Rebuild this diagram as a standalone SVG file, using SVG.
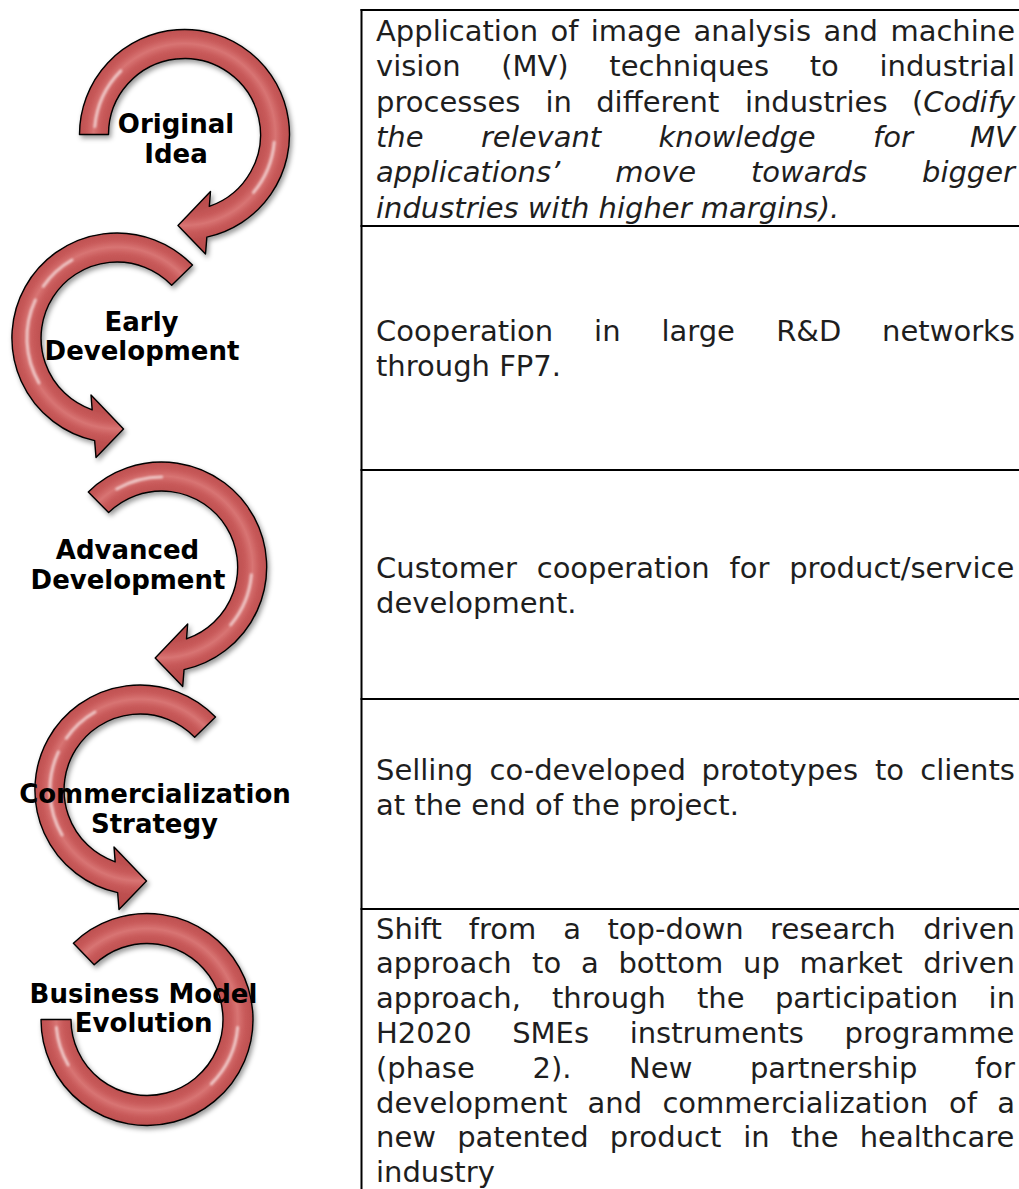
<svg xmlns="http://www.w3.org/2000/svg" width="1019" height="1189" viewBox="0 0 1019 1189">
  <defs>
    <radialGradient id="tube" gradientUnits="userSpaceOnUse" cx="0" cy="0" r="122">
      <stop offset="0.50" stop-color="#b54848"/>
      <stop offset="0.623" stop-color="#be5050"/>
      <stop offset="0.69" stop-color="#c95b5b"/>
      <stop offset="0.745" stop-color="#d87473"/>
      <stop offset="0.80" stop-color="#c95b5b"/>
      <stop offset="0.861" stop-color="#be5050"/>
      <stop offset="1" stop-color="#b54848"/>
    </radialGradient>
    <filter id="shadow" x="-20%" y="-20%" width="140%" height="140%">
      <feDropShadow dx="2" dy="3" stdDeviation="2.5" flood-color="#000" flood-opacity="0.4"/>
    </filter>
    <filter id="soft" x="-20%" y="-20%" width="140%" height="140%">
      <feGaussianBlur stdDeviation="1.1"/>
    </filter>
    <style>
      .arrow { fill: url(#tube); stroke: #000; stroke-width: 1.4; stroke-linejoin: round; filter: url(#shadow); }
      .streak { fill: none; stroke: #fff; stroke-width: 3; stroke-linecap: round; opacity: 0.6; filter: url(#soft); }
      .label { font-family: "DejaVu Sans", Verdana, sans-serif; font-weight: bold; font-size: 26px; fill: #000; text-anchor: middle; }
      .body { font-family: "DejaVu Sans", Verdana, sans-serif; font-size: 29px; fill: #1e1e1e; }
      .it { font-style: italic; }
      .rule { stroke: #000; stroke-width: 2; fill: none; }
    </style>
  </defs>
  <rect width="1019" height="1189" fill="#fff"/>

  <!-- table frame -->
  <g id="table-lines">
    <line class="rule" x1="361.5" y1="9" x2="361.5" y2="1189"/>
    <line class="rule" x1="360.5" y1="10" x2="1019" y2="10"/>
    <line class="rule" x1="360.5" y1="226" x2="1019" y2="226"/>
    <line class="rule" x1="360.5" y1="470" x2="1019" y2="470"/>
    <line class="rule" x1="360.5" y1="699" x2="1019" y2="699"/>
    <line class="rule" x1="360.5" y1="909" x2="1019" y2="909"/>
  </g>

  <g id="connectors"/>

  <!-- Stage 1 -->
  <g id="stage-original-idea">
    <g transform="translate(184.5,134.5)">
      <path class="arrow" d="M -105,0 A 105 105 0 1 1 22.35,102.6 L 21,119.5 L -6.5,91 L 26,57 L 24.81,71.84 A 76 76 0 1 0 -76,0 Z"/>
      <path class="streak" d="M -89.66,-7.84 A 90 90 0 0 1 -63.64,-63.64"/>
      <path class="streak" d="M 89.66,7.84 A 90 90 0 0 1 68.94,57.85"/>
    </g>
    <text class="label" x="176" y="133">Original</text>
    <text class="label" x="176" y="163">Idea</text>
  </g>

  <!-- Stage 2 -->
  <g id="stage-early-development">
    <g transform="translate(117,338)">
      <path class="arrow" d="M 75.5,-72.9 A 105 105 0 1 0 -22.35,102.6 L -21,119.5 L 6.5,91 L -26,57 L -24.81,71.84 A 76 76 0 1 1 54.7,-52.8 Z"/>
      <path class="streak" d="M -81.57,-38.04 A 90 90 0 0 0 -77.94,45"/>
      <path class="streak" d="M -73.72,-51.62 A 90 90 0 0 1 -45,-77.94"/>
    </g>
    <text class="label" x="141.5" y="331">Early</text>
    <text class="label" x="142" y="360">Development</text>
  </g>

  <!-- Stage 3 -->
  <g id="stage-advanced-development">
    <g transform="translate(161.7,567)">
      <path class="arrow" d="M -73.4,-75.1 A 105 105 0 1 1 22.35,102.6 L 21,119.5 L -6.5,91 L 26,57 L 24.81,71.84 A 76 76 0 1 0 -53.1,-54.4 Z"/>
      <path class="streak" d="M 89.66,7.84 A 90 90 0 0 1 68.94,57.85"/>
      <path class="streak" d="M -45,-77.94 A 90 90 0 0 1 0,-90"/>
    </g>
    <text class="label" x="127.5" y="559">Advanced</text>
    <text class="label" x="128" y="589">Development</text>
  </g>

  <!-- Stage 4 -->
  <g id="stage-commercialization-strategy">
    <g transform="translate(140,790)">
      <path class="arrow" d="M 75.5,-72.9 A 105 105 0 1 0 -22.35,102.6 L -21,119.5 L 6.5,91 L -26,57 L -24.81,71.84 A 76 76 0 1 1 54.7,-52.8 Z"/>
      <path class="streak" d="M -81.57,-38.04 A 90 90 0 0 0 -77.94,45"/>
      <path class="streak" d="M -73.72,-51.62 A 90 90 0 0 1 -45,-77.94"/>
    </g>
    <text class="label" x="155" y="803">Commercialization</text>
    <text class="label" x="154.5" y="833">Strategy</text>
  </g>

  <!-- Stage 5 -->
  <g id="stage-business-model-evolution">
    <g transform="translate(147,1019.5)">
      <path class="arrow" d="M -106,0 A 106 106 0 1 0 -73.6,-76.3 L -52.8,-54.7 A 76 76 0 1 1 -76,0 Z"/>
      <path class="streak" d="M 90.65,7.93 A 91 91 0 0 1 64.35,64.35"/>
      <path class="streak" d="M -78.81,45.5 A 91 91 0 0 1 -90.65,7.93"/>
    </g>
    <text class="label" x="143.5" y="1003">Business Model</text>
    <text class="label" x="143.7" y="1032">Evolution</text>
  </g>

  <!-- Row 1 -->
  <g id="row-original-idea">
    <text class="body" y="41"><tspan x="376">Application</tspan><tspan x="550.5">of</tspan><tspan x="590.8">image</tspan><tspan x="693.6">analysis</tspan><tspan x="823.4">and</tspan><tspan x="890.4">machine</tspan></text>
    <text class="body" y="76.3"><tspan x="376">vision</tspan><tspan x="501.2">(MV)</tspan><tspan x="609.3">techniques</tspan><tspan x="809.7">to</tspan><tspan x="879.5">industrial</tspan></text>
    <text class="body" y="111.6"><tspan x="376">processes</tspan><tspan x="545.4">in</tspan><tspan x="596.2">different</tspan><tspan x="744.9">industries</tspan><tspan x="911.9">(</tspan><tspan class="it">Codify</tspan></text>
    <text class="body it" y="146.9"><tspan x="376">the</tspan><tspan x="480.9">relevant</tspan><tspan x="658.5">knowledge</tspan><tspan x="873">for</tspan><tspan x="970.1">MV</tspan></text>
    <text class="body it" y="182.2"><tspan x="376">applications’</tspan><tspan x="615.2">move</tspan><tspan x="751">towards</tspan><tspan x="922">bigger</tspan></text>
    <text class="body it" x="376" y="217.5">industries with higher margins).</text>
  </g>

  <!-- Row 2 -->
  <g id="row-early-development">
    <text class="body" y="341"><tspan x="376">Cooperation</tspan><tspan x="594.1">in</tspan><tspan x="661.4">large</tspan><tspan x="776.2">R&amp;D</tspan><tspan x="882.1">networks</tspan></text>
    <text class="body" x="376" y="376.3">through FP7.</text>
  </g>

  <!-- Row 3 -->
  <g id="row-advanced-development">
    <text class="body" y="578"><tspan x="376">Customer</tspan><tspan x="536.7">cooperation</tspan><tspan x="729.5">for</tspan><tspan x="789.2">product/service</tspan></text>
    <text class="body" x="376" y="613.3">development.</text>
  </g>

  <!-- Row 4 -->
  <g id="row-commercialization-strategy">
    <text class="body" y="780"><tspan x="376">Selling</tspan><tspan x="489.5">co-developed</tspan><tspan x="701.6">prototypes</tspan><tspan x="874.9">to</tspan><tspan x="920.2">clients</tspan></text>
    <text class="body" x="376" y="815.3">at the end of the project.</text>
  </g>

  <!-- Row 5 -->
  <g id="row-business-model-evolution">
    <text class="body" y="938.5"><tspan x="376">Shift</tspan><tspan x="468.8">from</tspan><tspan x="563.3">a</tspan><tspan x="607.5">top-down</tspan><tspan x="770.1">research</tspan><tspan x="923.2">driven</tspan></text>
    <text class="body" y="973.3"><tspan x="376">approach</tspan><tspan x="532.1">to</tspan><tspan x="580.9">a</tspan><tspan x="618.4">bottom</tspan><tspan x="743">up</tspan><tspan x="799.6">market</tspan><tspan x="923.2">driven</tspan></text>
    <text class="body" y="1008.1"><tspan x="376">approach,</tspan><tspan x="552">through</tspan><tspan x="696.9">the</tspan><tspan x="774.9">participation</tspan><tspan x="988.6">in</tspan></text>
    <text class="body" y="1042.9"><tspan x="376">H2020</tspan><tspan x="512.2">SMEs</tspan><tspan x="629.7">instruments</tspan><tspan x="844.5">programme</tspan></text>
    <text class="body" y="1077.7"><tspan x="376">(phase</tspan><tspan x="532.5">2).</tspan><tspan x="629.1">New</tspan><tspan x="749.9">partnership</tspan><tspan x="975.1">for</tspan></text>
    <text class="body" y="1112.5"><tspan x="376">development</tspan><tspan x="587.6">and</tspan><tspan x="662.4">commercialization</tspan><tspan x="949">of</tspan><tspan x="997.2">a</tspan></text>
    <text class="body" y="1147.3"><tspan x="376">new</tspan><tspan x="457.2">patented</tspan><tspan x="609.8">product</tspan><tspan x="743.2">in</tspan><tspan x="790.9">the</tspan><tspan x="859.7">healthcare</tspan></text>
    <text class="body" x="376" y="1182">industry</text>
  </g>
</svg>
